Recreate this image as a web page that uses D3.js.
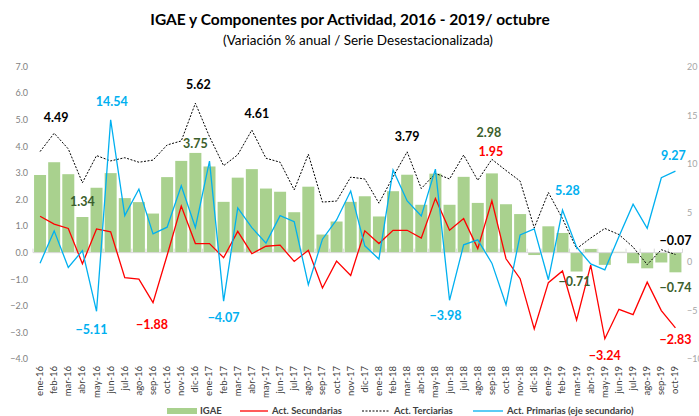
<!DOCTYPE html>
<html>
<head>
<meta charset="utf-8">
<script src="https://cdn.jsdelivr.net/npm/d3@7"></script>
<style>
  body { margin: 0; background: #fff; }
  text { font-family: Lato, "Open Sans", sans-serif; }
</style>
</head>
<body>
<div id="chart"></div>
<script>
// months, ene-16 .. oct-19
const months = ['ene-16','feb-16','mar-16','abr-16','may-16','jun-16','jul-16','ago-16','sep-16','oct-16','nov-16','dic-16',
  'ene-17','feb-17','mar-17','abr-17','may-17','jun-17','jul-17','ago-17','sep-17','oct-17','nov-17','dic-17',
  'ene-18','feb-18','mar-18','abr-18','may-18','jun-18','jul-18','ago-18','sep-18','oct-18','nov-18','dic-18',
  'ene-19','feb-19','mar-19','abr-19','may-19','jun-19','jul-19','ago-19','sep-19','oct-19']

const igae = [2.92,3.40,2.95,1.34,2.44,2.99,2.05,1.90,1.47,2.84,3.45,3.75,
  3.24,1.91,2.82,3.14,2.41,2.29,1.52,2.48,0.68,1.17,1.91,2.12,
  1.36,2.31,2.93,1.80,2.97,1.80,2.85,1.87,2.98,1.82,1.45,-0.09,
  0.99,0.74,-0.71,0.14,-0.46,0.03,-0.40,-0.59,-0.37,-0.74]

const secundarias = [1.37,1.07,0.91,-0.42,0.89,0.78,-0.94,-1.00,-1.88,-0.10,1.75,0.34,
  0.34,-0.19,0.80,-0.04,0.24,0.28,-0.33,0.09,-1.33,-0.32,-0.86,0.82,
  0.34,0.84,0.84,0.55,2.04,0.84,1.28,0.15,1.95,-0.23,-0.98,-2.87,
  -1.13,-0.69,-2.53,-0.47,-3.24,-2.13,-2.33,-1.11,-2.18,-2.83]

const terciarias = [3.80,4.49,3.90,2.63,3.65,3.45,3.57,3.40,3.48,4.05,4.20,5.62,
  4.36,3.27,3.68,4.61,3.55,3.40,2.36,3.70,1.90,1.94,2.84,2.77,
  1.86,2.85,3.79,2.41,2.98,2.77,3.67,2.72,3.51,3.09,2.69,0.93,
  2.26,1.28,0.15,0.55,0.91,0.68,0.21,-0.45,0.11,-0.07]

// secondary axis
const primarias = [-0.17,3.14,-0.61,1.12,-5.11,14.54,4.70,7.43,2.83,3.52,7.77,3.48,
  10.30,-4.07,5.50,3.48,1.88,4.70,4.09,-2.38,2.29,4.26,7.23,1.61,
  0.25,9.38,6.21,4.67,9.48,-3.98,1.71,2.22,-0.17,-4.43,2.73,3.34,
  -1.87,5.28,1.47,-0.24,-0.85,2.56,5.87,3.41,8.59,9.27]

const leftTicks = [-4,-3,-2,-1,0,1,2,3,4,5,6,7]
const rightTicks = [-10,-5,0,5,10,15,20]

const width = 699, height = 416

const svg = d3.select('#chart').append('svg')
  .attr('width', width)
  .attr('height', height)

const x = d3.scaleBand()
  .domain(months)
  .range([33, 682.5])
  .paddingInner(0.15)
  .paddingOuter(0.075)

const y = d3.scaleLinear().domain([-4, 7]).range([359, 66.5])
const y2 = d3.scaleLinear().domain([-10, 20]).range([359, 66.5])

const cx = m => x(m) + x.bandwidth() / 2

// title
svg.append('text')
  .attr('x', 350).attr('y', 25)
  .attr('text-anchor', 'middle')
  .attr('font-size', 15.5).attr('font-weight', 'bold')
  .attr('fill', '#000')
  .text('IGAE y Componentes  por Actividad, 2016 - 2019/ octubre')
svg.append('text')
  .attr('x', 358).attr('y', 45)
  .attr('text-anchor', 'middle')
  .attr('font-size', 13.5)
  .attr('fill', '#000')
  .text('(Variación % anual / Serie Desestacionalizada)')

// left axis
svg.append('g')
  .attr('transform', 'translate(28,0)')
  .call(d3.axisLeft(y).tickValues(leftTicks).tickFormat(d3.format('.1f')).tickSize(0))
  .call(g => g.select('.domain').remove())
  .call(g => g.selectAll('text').attr('fill', '#7f7f7f').attr('font-size', 9).attr('x', 0))

// right axis
svg.append('g')
  .attr('transform', 'translate(687,0)')
  .call(d3.axisRight(y2).tickValues(rightTicks).tickSize(0))
  .call(g => g.select('.domain').remove())
  .call(g => g.selectAll('text').attr('fill', '#a6a6a6').attr('font-size', 9).attr('x', 0))

// bars
svg.selectAll('rect.bar')
  .data(igae)
  .enter()
  .append('rect')
  .attr('class', 'bar')
  .attr('x', (d, i) => x(months[i]))
  .attr('y', d => y(Math.max(0, d)))
  .attr('width', x.bandwidth())
  .attr('height', d => Math.abs(y(d) - y(0)))
  .attr('fill', '#a9d18e')

// zero line with category ticks
const zero = svg.append('g').attr('transform', `translate(0,${y(0)})`)
zero.append('line')
  .attr('x1', x.range()[0]).attr('x2', x.range()[1])
  .attr('stroke', '#d9d9d9').attr('stroke-width', 1)
zero.selectAll('line.tk')
  .data(months.concat(['end']))
  .enter()
  .append('line')
  .attr('class', 'tk')
  .attr('x1', (d, i) => x.range()[0] + i * x.step())
  .attr('x2', (d, i) => x.range()[0] + i * x.step())
  .attr('y1', -4).attr('y2', 0)
  .attr('stroke', '#d9d9d9')

// month labels
svg.append('g')
  .selectAll('text')
  .data(months)
  .enter()
  .append('text')
  .attr('transform', d => `translate(${cx(d) + 3},366) rotate(-90)`)
  .attr('text-anchor', 'end')
  .attr('font-size', 9.5)
  .attr('fill', '#404040')
  .text(d => d)

// lines
const lineL = d3.line().x((d, i) => cx(months[i])).y(d => y(d))
const lineR = d3.line().x((d, i) => cx(months[i])).y(d => y2(d))

svg.append('path').datum(terciarias)
  .attr('d', lineL).attr('fill', 'none')
  .attr('stroke', '#000').attr('stroke-width', 1).attr('stroke-dasharray', '2,1.5')
svg.append('path').datum(secundarias)
  .attr('d', lineL).attr('fill', 'none')
  .attr('stroke', '#ff0000').attr('stroke-width', 1.3)
svg.append('path').datum(primarias)
  .attr('d', lineR).attr('fill', 'none')
  .attr('stroke', '#00b0f0').attr('stroke-width', 1.3)

// data labels
const series = {
  igae: { values: igae, scale: y, color: '#3b5e2b' },
  sec: { values: secundarias, scale: y, color: '#ff0000' },
  ter: { values: terciarias, scale: y, color: '#000' },
  pri: { values: primarias, scale: y2, color: '#00b0f0' }
}
const labels = [
  ['ter', 1, 2, -16], ['pri', 5, 1, -18], ['ter', 11, 3, -19], ['igae', 11, 0, -9],
  ['igae', 3, 0, -15], ['ter', 15, 5, -16], ['ter', 26, 0, -15], ['igae', 32, -3, -41],
  ['sec', 32, -1, -49], ['pri', 37, 5, -19], ['pri', 45, -2, -15], ['ter', 45, 0, -14],
  ['igae', 45, 0, 15], ['sec', 45, 0, 12], ['sec', 40, 0, 17], ['igae', 38, -2, 10],
  ['pri', 29, -4, 15], ['pri', 13, 0, 16], ['sec', 8, -1, 22], ['pri', 4, -5, 18]
]
svg.append('g')
  .selectAll('text')
  .data(labels)
  .enter()
  .append('text')
  .attr('x', d => cx(months[d[1]]) + d[2])
  .attr('y', d => {
    const s = series[d[0]]
    return s.scale(s.values[d[1]]) + d[3]
  })
  .attr('dy', '0.35em')
  .attr('text-anchor', 'middle')
  .attr('font-size', 12.5).attr('font-weight', 'bold')
  .attr('fill', d => series[d[0]].color)
  .text(d => d3.format('.2f')(series[d[0]].values[d[1]]))

// legend
const leg = svg.append('g').attr('font-size', 9.5).attr('font-weight', 'bold').attr('fill', '#404040')
leg.append('rect').attr('x', 167).attr('y', 408).attr('width', 30).attr('height', 6).attr('fill', '#a9d18e')
leg.append('text').attr('x', 200).attr('y', 414).text('IGAE')
leg.append('line').attr('x1', 240).attr('x2', 268).attr('y1', 411).attr('y2', 411).attr('stroke', '#ff0000').attr('stroke-width', 1.3)
leg.append('text').attr('x', 272).attr('y', 414).text('Act. Secundarias')
leg.append('line').attr('x1', 362).attr('x2', 390).attr('y1', 411).attr('y2', 411).attr('stroke', '#000').attr('stroke-dasharray', '2,1.5')
leg.append('text').attr('x', 394).attr('y', 414).text('Act. Terciarias')
leg.append('line').attr('x1', 473).attr('x2', 503).attr('y1', 411).attr('y2', 411).attr('stroke', '#00b0f0').attr('stroke-width', 1.3)
leg.append('text').attr('x', 507).attr('y', 414).text('Act. Primarias (eje secundario)')
</script>
</body>
</html>
